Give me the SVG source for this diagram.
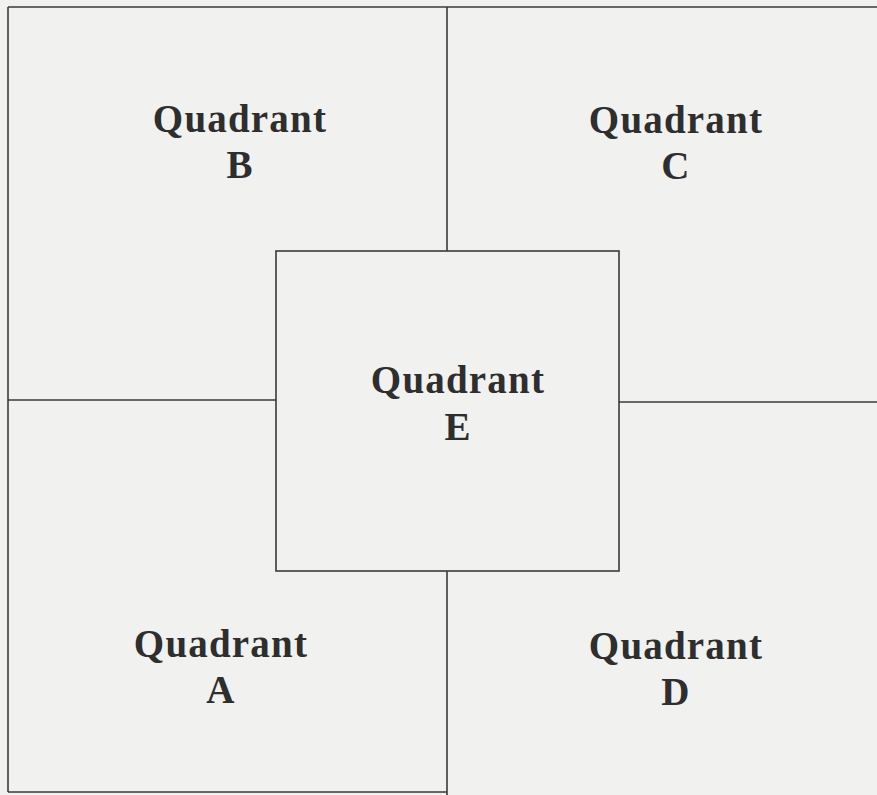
<svg xmlns="http://www.w3.org/2000/svg" width="877" height="795" viewBox="0 0 877 795">
<style>
.ln{stroke:#3a3a3a;stroke-width:1.6;fill:none}
.lbl{font-family:"Liberation Serif","Times New Roman",serif;font-weight:bold;font-size:39px;fill:#2e2e2e;text-anchor:middle;letter-spacing:1.2px}
</style>
<rect width="877" height="795" fill="#f1f1f0"/>
<g id="connectors">
<line class="ln" x1="8" y1="7" x2="877" y2="7"/>
<line class="ln" x1="8" y1="7" x2="8" y2="792"/>
<line class="ln" x1="8" y1="792" x2="447" y2="792"/>
<line class="ln" x1="447" y1="7" x2="447" y2="251"/>
<line class="ln" x1="447" y1="571" x2="447" y2="795"/>
<line class="ln" x1="8" y1="400" x2="276" y2="400"/>
<line class="ln" x1="619" y1="402" x2="877" y2="402"/>
</g>
<g id="quadB"><text class="lbl" x="240" y="132">Quadrant</text><text class="lbl" x="240" y="178">B</text></g>
<g id="quadC"><text class="lbl" x="676" y="133">Quadrant</text><text class="lbl" x="676" y="179">C</text></g>
<g id="quadE"><rect class="ln" x="276" y="251" width="343" height="320"/><text class="lbl" x="458" y="393">Quadrant</text><text class="lbl" x="458" y="440">E</text></g>
<g id="quadA"><text class="lbl" x="221" y="657">Quadrant</text><text class="lbl" x="221" y="703">A</text></g>
<g id="quadD"><text class="lbl" x="676" y="659">Quadrant</text><text class="lbl" x="676" y="705">D</text></g>
</svg>
